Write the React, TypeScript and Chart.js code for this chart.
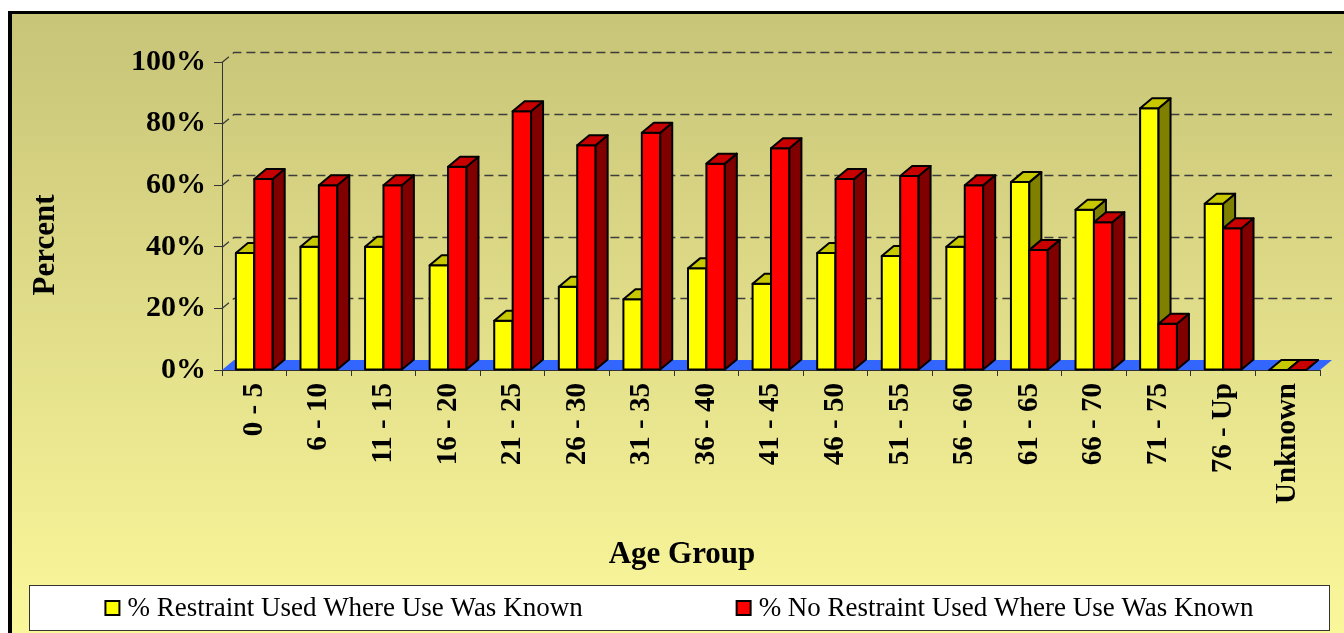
import React, { useEffect, useRef } from 'react';
import { Chart, registerables } from 'chart.js';

Chart.register(...registerables);

const categories = ['0 - 5', '6 - 10', '11 - 15', '16 - 20', '21 - 25', '26 - 30', '31 - 35', '36 - 40', '41 - 45', '46 - 50', '51 - 55', '56 - 60', '61 - 65', '66 - 70', '71 - 75', '76 - Up', 'Unknown'];
const restraintUsed = [38, 40, 40, 34, 16, 27, 23, 33, 28, 38, 37, 40, 61, 52, 85, 54, 0];
const noRestraint = [62, 60, 60, 66, 84, 73, 77, 67, 72, 62, 63, 60, 39, 48, 15, 46, 0];
const yTicks = [0, 20, 40, 60, 80, 100];
const seriesLabels = ['% Restraint Used Where Use Was Known', '% No Restraint Used Where Use Was Known'];
const yTitle = 'Percent';
const xTitle = 'Age Group';

const FRONT = ['#FFFF00', '#FF0000'];
const TOP = ['#C8C800', '#C80000'];
const SIDE = ['#808000', '#800000'];
const FLOOR = '#3366FF';
const DX = 12;
const DY = 10;
const SERIF = "'Liberation Serif', 'Times New Roman', serif";
const W = 1332;
const H = 619;

const threeD = {
  id: 'threeD',
  beforeDraw(chart: any) {
    const { ctx } = chart;
    const g = ctx.createLinearGradient(0, 0, 0, chart.height);
    g.addColorStop(0, '#C8C478');
    g.addColorStop(1, '#FAF79B');
    ctx.save();
    ctx.fillStyle = g;
    ctx.fillRect(0, 0, chart.width, chart.height);
    ctx.restore();
  },
  beforeDatasetsDraw(chart: any) {
    const { ctx, chartArea: ca, scales } = chart;
    const y = scales.y;
    ctx.save();
    // back wall gridlines
    ctx.strokeStyle = '#3c3c3c';
    ctx.lineWidth = 1.3;
    ctx.setLineDash([9, 5]);
    for (const v of yTicks) {
      if (v === 0) continue;
      const py = Math.round(y.getPixelForValue(v)) + 0.5;
      ctx.beginPath();
      ctx.moveTo(ca.left, py);
      ctx.lineTo(ca.left + DX, py - DY);
      ctx.lineTo(ca.right + DX, py - DY);
      ctx.stroke();
    }
    ctx.setLineDash([]);
    // floor
    const b = y.getPixelForValue(0);
    ctx.fillStyle = FLOOR;
    ctx.beginPath();
    ctx.moveTo(ca.left, b);
    ctx.lineTo(ca.right, b);
    ctx.lineTo(ca.right + DX, b - DY);
    ctx.lineTo(ca.left + DX, b - DY);
    ctx.closePath();
    ctx.fill();
    // bars
    const metas = [chart.getDatasetMeta(0), chart.getDatasetMeta(1)];
    ctx.lineWidth = 2;
    ctx.strokeStyle = '#000';
    ctx.lineJoin = 'round';
    for (let i = 0; i < categories.length; i++) {
      for (let d = 0; d < 2; d++) {
        const el = metas[d].data[i];
        const p = el.getProps(['x', 'y', 'base', 'width'], true);
        const x0 = p.x - p.width / 2;
        const x1 = p.x + p.width / 2;
        const top = p.y;
        const base = p.base;
        // front
        ctx.fillStyle = FRONT[d];
        ctx.beginPath();
        ctx.rect(x0, top, x1 - x0, base - top);
        ctx.fill();
        ctx.stroke();
        // side
        ctx.fillStyle = SIDE[d];
        ctx.beginPath();
        ctx.moveTo(x1, top);
        ctx.lineTo(x1 + DX, top - DY);
        ctx.lineTo(x1 + DX, base - DY);
        ctx.lineTo(x1, base);
        ctx.closePath();
        ctx.fill();
        ctx.stroke();
        // top
        ctx.fillStyle = TOP[d];
        ctx.beginPath();
        ctx.moveTo(x0, top);
        ctx.lineTo(x1, top);
        ctx.lineTo(x1 + DX, top - DY);
        ctx.lineTo(x0 + DX, top - DY);
        ctx.closePath();
        ctx.fill();
        ctx.stroke();
      }
    }
    ctx.restore();
    return false;
  },
  afterDraw(chart: any) {
    const { ctx } = chart;
    ctx.save();
    ctx.fillStyle = '#000';
    ctx.font = `bold 31px ${SERIF}`;
    ctx.textAlign = 'center';
    ctx.textBaseline = 'middle';
    ctx.save();
    ctx.translate(34, 231);
    ctx.rotate(-Math.PI / 2);
    ctx.fillText(yTitle, 0, 0);
    ctx.restore();
    ctx.fillText(xTitle, 670, 541);

    // legend
    const bx0 = 17, bx1 = 1318, by0 = 571, by1 = 617;
    ctx.fillStyle = '#FFFFFF';
    ctx.fillRect(bx0, by0, bx1 - bx0, by1 - by0);
    ctx.strokeStyle = '#333';
    ctx.lineWidth = 1;
    ctx.strokeRect(bx0 + 0.5, by0 + 0.5, bx1 - bx0 - 1, by1 - by0 - 1);
    ctx.font = `27px ${SERIF}`;
    ctx.textAlign = 'left';
    const sq = 14, gap = 8, spacing = 154;
    const widths = chart.data.datasets.map((ds: any) => ctx.measureText(ds.label).width);
    const total = widths.reduce((a: number, w: number) => a + sq + gap + w, 0) + spacing * (widths.length - 1);
    let lx = (bx0 + bx1) / 2 - total / 2;
    const ly = (by0 + by1) / 2;
    chart.data.datasets.forEach((ds: any, k: number) => {
      ctx.fillStyle = ds.backgroundColor;
      ctx.fillRect(lx, ly - sq / 2, sq, sq);
      ctx.strokeStyle = '#000';
      ctx.lineWidth = 2;
      ctx.strokeRect(lx, ly - sq / 2, sq, sq);
      ctx.fillStyle = '#000';
      ctx.fillText(ds.label, lx + sq + gap, ly + 1);
      lx += sq + gap + widths[k] + spacing;
    });
    ctx.restore();
  },
};

export default function App() {
  const ref = useRef<HTMLCanvasElement>(null);
  useEffect(() => {
    const chart = new Chart(ref.current as HTMLCanvasElement, {
      type: 'bar',
      data: {
        labels: categories,
        datasets: [
          { label: seriesLabels[0], data: restraintUsed, backgroundColor: FRONT[0], borderColor: '#000', borderWidth: 1 },
          { label: seriesLabels[1], data: noRestraint, backgroundColor: FRONT[1], borderColor: '#000', borderWidth: 1 },
        ],
      },
      options: {
        animation: false,
        responsive: false,
        events: [],
        layout: { padding: { top: 48, right: 24, left: 0, bottom: 0 } },
        datasets: { bar: { categoryPercentage: 0.57, barPercentage: 1.0 } },
        plugins: { legend: { display: false }, tooltip: { enabled: false }, title: { display: false } },
        scales: {
          x: {
            z: 1,
            grid: { drawOnChartArea: false, drawTicks: true, tickLength: 6, color: '#333', offset: true },
            border: { display: true, color: '#333', width: 1 },
            ticks: {
              autoSkip: false,
              minRotation: 90,
              maxRotation: 90,
              padding: 7,
              color: '#000',
              font: { family: SERIF, size: 29, weight: 'bold' },
            },
            afterFit: (s: any) => { s.height = H - 356; },
          },
          y: {
            z: 1,
            min: 0,
            max: 100,
            afterBuildTicks: (s: any) => { s.ticks = yTicks.map((v) => ({ value: v })); },
            grid: { drawOnChartArea: false, drawTicks: true, tickLength: 8, color: '#333' },
            border: { display: true, color: '#333', width: 1 },
            ticks: {
              padding: 8,
              color: '#000',
              font: { family: SERIF, size: 30, weight: 'bold' },
              callback: (v: any) => v + '%',
            },
            afterFit: (s: any) => { s.width = 210; },
          },
        },
      },
      plugins: [threeD],
    } as any);
    return () => chart.destroy();
  }, []);
  return (
    <div
      style={{
        position: 'fixed',
        left: 8,
        top: 11,
        width: W,
        height: H,
        borderTop: '3px solid #000',
        borderLeft: '4px solid #000',
      }}
    >
      <canvas ref={ref} width={W} height={H} style={{ display: 'block', width: W, height: H }} />
    </div>
  );
}
